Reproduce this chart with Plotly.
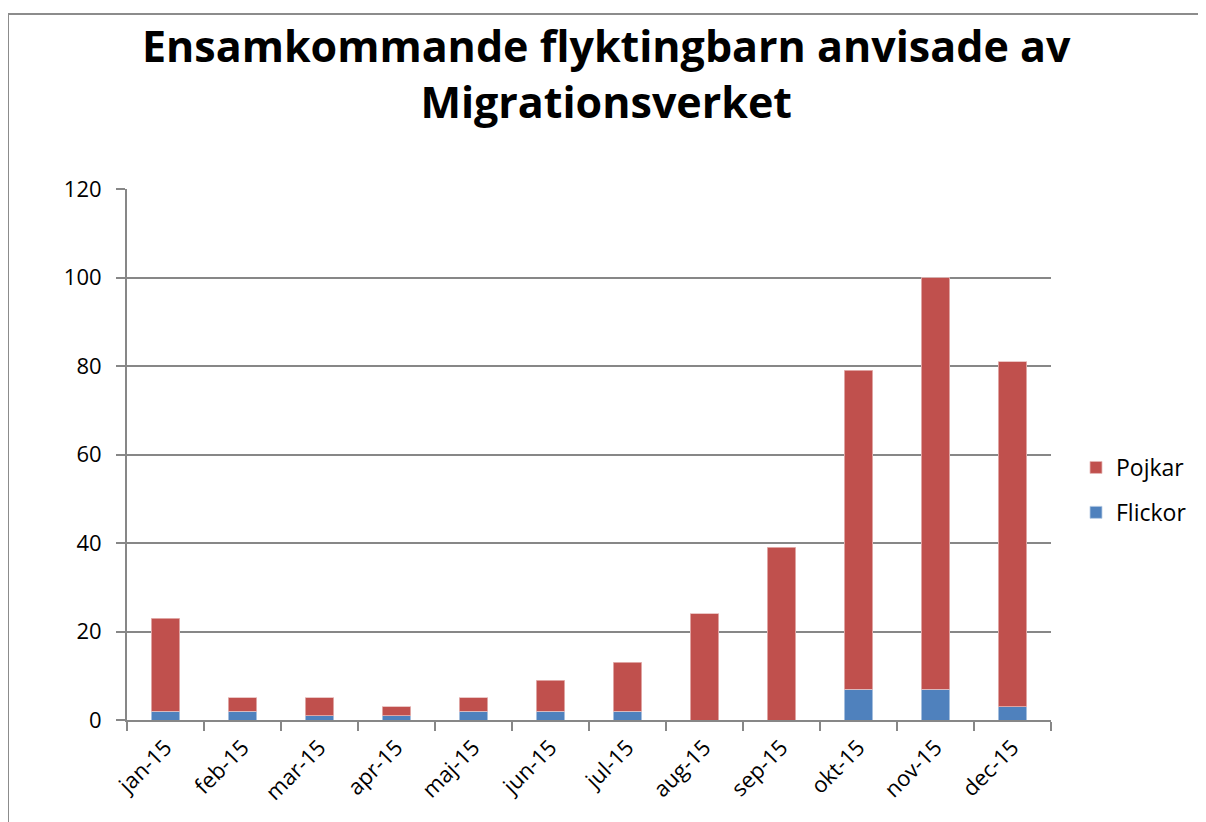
import plotly.graph_objects as go

months = ["jan-15", "feb-15", "mar-15", "apr-15", "maj-15", "jun-15",
          "jul-15", "aug-15", "sep-15", "okt-15", "nov-15", "dec-15"]
flickor = [2, 2, 1, 1, 2, 2, 2, 0, 0, 7, 7, 3]
pojkar = [21, 3, 4, 2, 3, 7, 11, 24, 39, 72, 93, 78]
y_ticks = [0, 20, 40, 60, 80, 100, 120]
title_text = "<b>Ensamkommande flyktingbarn anvisade av<br>Migrationsverket</b>"

FONT = "Open Sans"
GRAY = "#878787"

# page has an 8px body margin; work in figure coordinates
OFF = 8
FW, FH = 1206 - OFF, 822 - OFF
L, R, T, B = 127 - OFF, 1051 - OFF, 189 - OFF, 720 - OFF
W, H = R - L, B - T


def px_x(p):
    return (p - OFF - L) / W


def px_y(p):
    return (B - (p - OFF)) / H


fig = go.Figure()
fig.add_trace(go.Bar(x=months, y=flickor, name="Flickor", legendgroup="f",
                     legendrank=2,
                     marker=dict(color="#4f81bd", line=dict(color="#b9cde5", width=0.8))))
fig.add_trace(go.Bar(x=months, y=pojkar, name="Pojkar", legendgroup="p",
                     legendrank=1,
                     marker=dict(color="#c0504d", line=dict(color="#e6b9b8", width=0.8))))

fig.update_layout(
    width=FW, height=FH,
    margin=dict(l=L, r=FW - R, t=T, b=FH - B, pad=0),
    paper_bgcolor="white", plot_bgcolor="white",
    barmode="stack", bargap=0.63,
    font=dict(family=FONT, size=22, color="black"),
    legend=dict(traceorder="grouped", x=px_x(1076), xanchor="left",
                y=px_y(490), yanchor="middle", font=dict(size=23),
                tracegroupgap=12, itemwidth=30),
    xaxis=dict(showline=True, linecolor=GRAY, linewidth=2,
               ticks="outside", tickson="boundaries", ticklen=9, tickcolor=GRAY,
               tickwidth=2, tickangle=-45, tickfont=dict(size=22),
               ticklabelstandoff=4, showgrid=False),
    yaxis=dict(range=[0, 120], tickvals=y_ticks, showline=True, linecolor=GRAY,
               linewidth=2, ticks="outside", ticklen=9, tickcolor=GRAY, tickwidth=2,
               showgrid=True, gridcolor=GRAY, gridwidth=2, zeroline=False,
               ticklabelstandoff=10, tickfont=dict(size=22)),
    annotations=[dict(text=title_text, xref="paper", yref="paper",
                      x=px_x(606), y=px_y(74), xanchor="center", yanchor="middle",
                      showarrow=False, font=dict(family=FONT, size=43, color="black"))],
    shapes=[dict(type="rect", xref="paper", yref="paper",
                 x0=px_x(8), x1=px_x(1240), y0=px_y(850), y1=px_y(14),
                 line=dict(color="#8c8c8c", width=2), layer="below")],
)

fig.write_html("out.html")
